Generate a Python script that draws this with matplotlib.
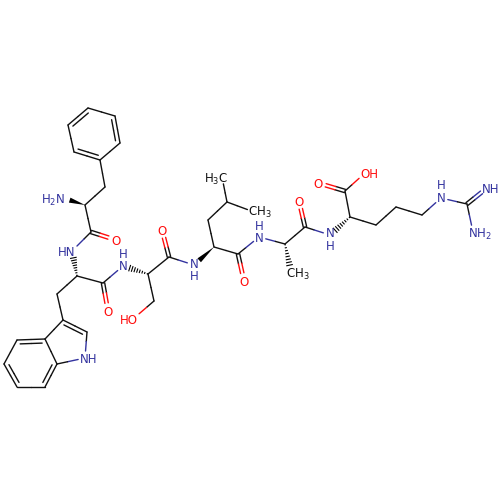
import numpy as np
import matplotlib
matplotlib.use("Agg")
import matplotlib.pyplot as plt

BLUE = "#33339f"
RED = "#ff0d0d"
BLACK = "#111111"

# atom positions
atom_names = ["r1", "r2", "r3", "r4", "r5", "r6", "cb1", "ca1", "n1", "c1", "o1",
              "n2", "ca2", "c2", "o2", "cb2", "t3", "t2", "t1", "t7a", "t3a", "t4", "t5", "t6", "t7",
              "n3", "ca3", "cb3", "og3", "c3", "o3",
              "n4", "ca4", "cb4", "cg4", "cd1", "cd2", "c4", "o4",
              "n5", "ca5", "cb5", "c5", "o5",
              "n6", "ca6", "c6", "o6a", "o6b", "cb6", "cg6", "cd6", "ne", "cz", "nh1", "nh2"]
atom_x = [88, 115, 120, 100, 74, 68, 105, 85, 63, 91, 116,
          72, 77, 103, 108, 57, 63, 87, 85, 57, 45, 17, 4, 17, 45,
          123, 148, 154, 133, 169, 162,
          194, 214, 208, 227, 222, 254, 238, 244,
          259, 285, 291, 305, 299,
          330, 350, 345, 318, 365, 376, 396, 422, 441, 467, 487, 473]
atom_y = [108, 116, 143, 160, 152, 125, 187, 205, 198, 232, 240,
          251, 276, 283, 311, 294, 320, 332, 358, 364, 339, 340, 364, 387, 387,
          266, 274, 301, 319, 257, 230,
          265, 247, 220, 202, 177, 212, 254, 281,
          237, 244, 272, 227, 201,
          235, 217, 191, 183, 173, 225, 207, 215, 198, 204, 188, 232]
hetero_blue = ["n1", "n2", "t1", "n3", "n4", "n5", "n6", "ne", "nh1", "nh2"]
hetero_red = ["o1", "o2", "og3", "o3", "o4", "o5", "o6a", "o6b"]
methyls = ["cd1", "cd2", "cb5"]

single_bonds = [("r3", "r4"), ("r5", "r6"), ("r1", "r2"), ("r4", "cb1"), ("cb1", "ca1"), ("ca1", "c1"),
                ("c1", "n2"), ("ca2", "c2"), ("ca2", "cb2"), ("cb2", "t3"), ("t2", "t1"), ("t1", "t7a"),
                ("t3", "t3a"), ("t3a", "t7a"), ("t4", "t5"), ("t6", "t7"),
                ("c2", "n3"), ("ca3", "cb3"), ("cb3", "og3"), ("ca3", "c3"), ("c3", "n4"),
                ("ca4", "cb4"), ("cb4", "cg4"), ("cg4", "cd1"), ("cg4", "cd2"), ("ca4", "c4"), ("c4", "n5"),
                ("n5", "ca5"), ("ca5", "c5"), ("c5", "n6"),
                ("ca6", "c6"), ("c6", "o6b"), ("ca6", "cb6"), ("cb6", "cg6"), ("cg6", "cd6"), ("cd6", "ne"),
                ("ne", "cz"), ("cz", "nh2")]
centered_double = [("c1", "o1"), ("c2", "o2"), ("c3", "o3"), ("c4", "o4"), ("c5", "o5"), ("c6", "o6a"), ("cz", "nh1")]
# ring doubles, the second line sits on the side of the third name
ring_double = [("r2", "r3", "r4"), ("r4", "r5", "r6"), ("r6", "r1", "r2"), ("t3", "t2", "t1"),
               ("t3a", "t4", "t5"), ("t5", "t6", "t7"), ("t7", "t7a", "t3a")]
wedges = [("ca1", "n1"), ("ca4", "n4")]
hashes = [("ca2", "n2"), ("ca3", "n3"), ("ca5", "cb5"), ("ca6", "n6")]

label_text = ["H$_2$N", "O", "HN", "O", "NH", "H\nN", "HO", "O", "N\nH", "H$_3$C", "CH$_3$", "O",
              "H\nN", "CH$_3$", "O", "N\nH", "O", "OH", "H\nN", "NH", "NH$_2$"]
label_x = [53, 116, 67, 108, 89, 123, 129, 162, 194, 216, 260, 244,
           259, 298, 299, 330, 318, 369, 441, 491, 480]
label_y = [198, 240, 251, 311, 358, 260.5, 319, 230, 270.5, 177, 210.5, 281,
           232.5, 272, 201, 240, 183, 173, 192, 188, 232]
label_color = [BLUE, RED, BLUE, RED, BLUE, BLUE, RED, RED, BLUE, BLACK, BLACK, RED,
               BLUE, BLACK, RED, BLUE, RED, RED, BLUE, BLUE, BLUE]

pos = {n: np.array([x, y], dtype=float) for n, x, y in zip(atom_names, atom_x, atom_y)}


def atom_color(name):
    if name in hetero_blue:
        return BLUE
    if name in hetero_red:
        return RED
    return BLACK


def gap(name):
    if name in hetero_red:
        return 8
    if name in hetero_blue or name in methyls:
        return 7
    return 0


def trimmed(a, b):
    p, q = pos[a], pos[b]
    u = (q - p) / np.linalg.norm(q - p)
    return p + u * gap(a), q - u * gap(b)


def two_tone(ax, p, q, a, b):
    m = (p + q) / 2
    ax.plot([p[0], m[0]], [p[1], m[1]], color=atom_color(a), lw=1.0, solid_capstyle="round")
    ax.plot([m[0], q[0]], [m[1], q[1]], color=atom_color(b), lw=1.0, solid_capstyle="round")


fig = plt.figure(figsize=(5, 5), dpi=100)
ax = fig.add_axes([0, 0, 1, 1])
ax.set_xlim(0, 500)
ax.set_ylim(500, 0)
ax.axis("off")

for a, b in single_bonds:
    p, q = trimmed(a, b)
    two_tone(ax, p, q, a, b)

for a, b in centered_double:
    p, q = trimmed(a, b)
    u = (q - p) / np.linalg.norm(q - p)
    n = np.array([-u[1], u[0]])
    two_tone(ax, p + n * 1.7, q + n * 1.7, a, b)
    two_tone(ax, p - n * 1.7, q - n * 1.7, a, b)

for a, b, c in ring_double:
    p, q = trimmed(a, b)
    two_tone(ax, p, q, a, b)
    u = (q - p) / np.linalg.norm(q - p)
    n = np.array([-u[1], u[0]])
    if np.dot(pos[c] - p, n) < 0:
        n = -n
    two_tone(ax, p + n * 4 + u * 3, q + n * 4 - u * 3, a, b)

for a, b in wedges:
    p, q = trimmed(a, b)
    u = (q - p) / np.linalg.norm(q - p)
    n = np.array([-u[1], u[0]])
    ax.fill([p[0], q[0] + n[0] * 2.6, q[0] - n[0] * 2.6], [p[1], q[1] + n[1] * 2.6, q[1] - n[1] * 2.6],
            color="black", lw=0)

for a, b in hashes:
    p, q = trimmed(a, b)
    u = (q - p) / np.linalg.norm(q - p)
    n = np.array([-u[1], u[0]])
    for t in np.linspace(0.04, 1, 8):
        c = p + (q - p) * t
        w = 2.8 * t
        ax.plot([c[0] - n[0] * w, c[0] + n[0] * w], [c[1] - n[1] * w, c[1] + n[1] * w], color="black", lw=0.8)

for txt, x, y, col in zip(label_text, label_x, label_y, label_color):
    va = "center" if "\n" in txt else "center_baseline"
    ax.text(x, y, txt, color=col, fontsize=8.5, ha="center", va=va, linespacing=0.95)

fig.savefig("out.png", dpi=100, facecolor="white")
